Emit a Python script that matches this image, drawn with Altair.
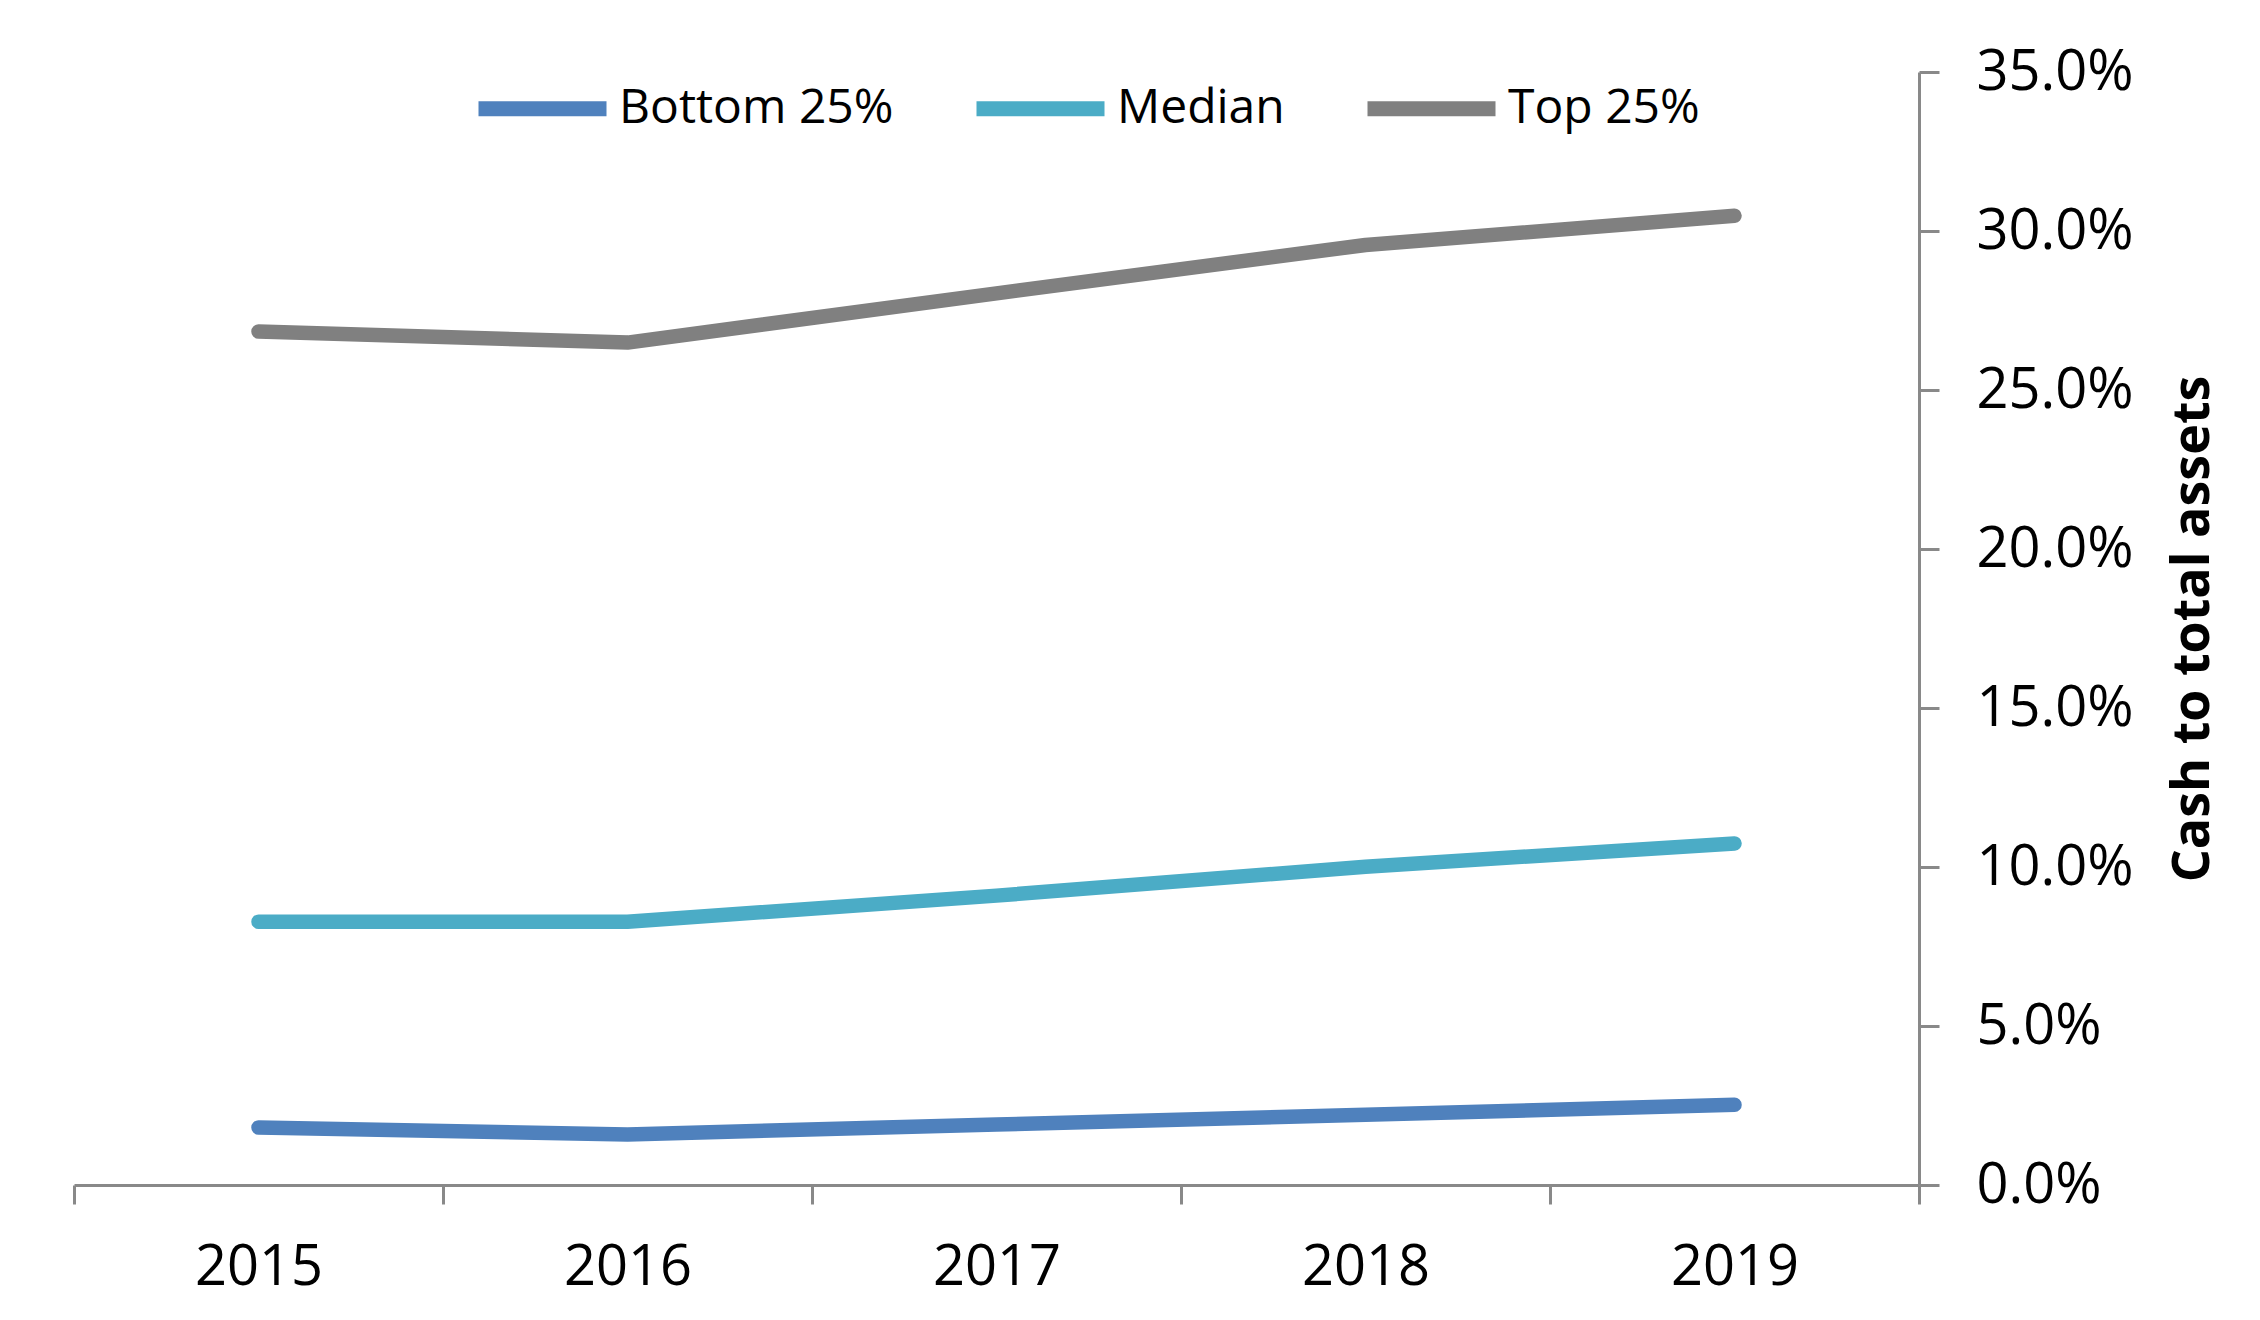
import altair as alt
import pandas as pd

years = [2015, 2016, 2017, 2018, 2019]
bottom_25 = [0.0181, 0.0159, 0.0190, 0.0221, 0.0252]
median = [0.0828, 0.0828, 0.0910, 0.1001, 0.1074]
top_25 = [0.2684, 0.2649, 0.2804, 0.2956, 0.3048]
series = ["Bottom 25%", "Median", "Top 25%"]
colors = ["#4F81BD", "#4BACC6", "#808080"]
y_ticks = [0.0, 0.05, 0.10, 0.15, 0.20, 0.25, 0.30, 0.35]
x_ticks = [2014.5, 2015.5, 2016.5, 2017.5, 2018.5, 2019.5]

rows = []
for name, vals in zip(series, [bottom_25, median, top_25]):
    for yr, v in zip(years, vals):
        rows.append({"Year": yr, "Series": name, "Value": v})
df = pd.DataFrame(rows)

FONT = "Open Sans"
W, H = 1845, 1113
AXIS_COLOR = "#898989"

chart = (
    alt.Chart(df)
    .mark_line(strokeWidth=14.5, strokeCap="round", strokeJoin="round")
    .encode(
        x=alt.X(
            "Year:Q",
            scale=alt.Scale(domain=[2014.5, 2019.5], nice=False, zero=False),
            axis=alt.Axis(
                values=x_ticks,
                labelExpr="datum.value > 2019 ? '' : format(datum.value + 0.5, 'd')",
                labelOffset=W / 5 / 2,
                labelFlush=False,
                labelOverlap=False,
                grid=False,
                title=None,
                domainColor=AXIS_COLOR,
                domainWidth=3,
                tickColor=AXIS_COLOR,
                tickWidth=3,
                tickSize=19,
                labelPadding=36,
                labelFont=FONT,
                labelFontSize=56,
                labelColor="#000000",
            ),
        ),
        y=alt.Y(
            "Value:Q",
            scale=alt.Scale(domain=[0, 0.35], nice=False),
            axis=alt.Axis(
                orient="right",
                values=y_ticks,
                format=".1%",
                grid=False,
                title="Cash to total assets",
                titleFont=FONT,
                titleFontSize=52,
                titleFontWeight="bold",
                titleColor="#000000",
                titleAngle=270,
                titleAlign="center",
                titleBaseline="middle",
                titleX=273,
                titleY=H / 2,
                domainColor=AXIS_COLOR,
                domainWidth=3,
                tickColor=AXIS_COLOR,
                tickWidth=3,
                tickSize=20,
                labelPadding=37,
                labelFont=FONT,
                labelFontSize=56,
                labelColor="#000000",
                labelAlign="left",
            ),
        ),
        color=alt.Color(
            "Series:N",
            scale=alt.Scale(domain=series, range=colors),
            legend=alt.Legend(
                title=None,
                orient="none",
                direction="horizontal",
                legendX=397,
                legendY=-35,
                symbolType="stroke",
                symbolStrokeWidth=15,
                symbolSize=16384,
                labelOffset=5,
                columnPadding=52,
                labelLimit=0,
                labelFont=FONT,
                labelFontSize=48,
                labelColor="#000000",
            ),
        ),
        order=alt.Order("Year:Q"),
    )
    .properties(
        width=W,
        height=H,
        autosize=alt.AutoSizeParams(type="none"),
        padding={"left": 66, "top": 64, "right": 320, "bottom": 120},
    )
    .configure(background="#ffffff", view=alt.ViewConfig(stroke=None))
)

chart.save("out.html", embed_options={"renderer": "svg", "actions": False})
